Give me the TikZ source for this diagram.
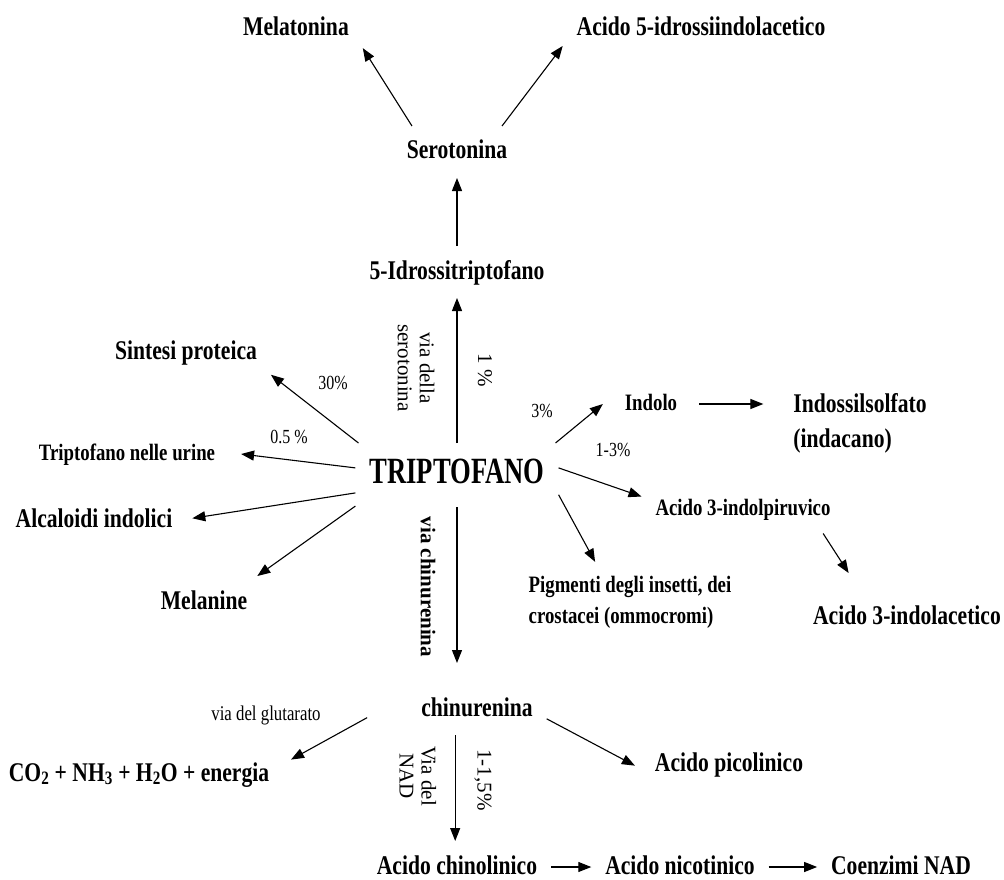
\documentclass[tikz,border=0pt]{standalone}
\usepackage{fontspec}
\setmainfont{Liberation Serif}[FakeStretch=0.8]
\newfontfamily\upright{Liberation Serif}
\newfontfamily\tripfont{Liberation Serif}[FakeStretch=0.72]
\usetikzlibrary{arrows.meta}

\begin{document}
\begin{tikzpicture}[x=1pt,y=-1pt,
  big/.style={font=\bfseries\fontsize{27}{30}\selectfont,inner sep=0pt,outer sep=14pt,text height=19pt,text depth=5pt},
  small/.style={font=\bfseries\fontsize{23.5}{26}\selectfont,inner sep=0pt,outer sep=14pt,text height=16.5pt,text depth=4.5pt},
  block/.style={font=\bfseries\fontsize{27}{35}\selectfont,align=left,inner sep=0pt,outer sep=14pt},
  pct/.style={font=\fontsize{20}{22}\selectfont,inner sep=0pt},
  side/.style={font=\upright\fontsize{21}{22}\selectfont,rotate=-90,align=center,inner sep=0pt},
  arr/.style={-{Triangle[length=13pt,width=10pt]},line width=1.1pt}]

\useasboundingbox (0,0) rectangle (1004,880);

% via della serotonina
\node[big] (mel) at (296,29) {Melatonina};
\node[big] (hia) at (701,29) {Acido 5-idrossiindolacetico};
\node[big] (ser) at (457,152) {Serotonina};
\node[big] (htp) at (457,272) {5-Idrossitriptofano};

\node[font=\tripfont\bfseries\fontsize{37}{40}\selectfont,inner sep=0pt,outer sep=14pt,text height=26pt,text depth=10pt] (trp) at (457,475) {TRIPTOFANO};

% left
\node[big] (sint) at (186,352) {Sintesi proteica};
\node[small,outer sep=26pt] (uri) at (127,454) {Triptofano nelle urine};
\node[big,outer sep=20pt] (alc) at (94,520) {Alcaloidi indolici};
\node[big] (mln) at (204,602) {Melanine};

% right
\node[small,outer sep=22pt] (ind) at (651,404) {Indolo};
\node[block,outer sep=30pt] (inds) at (860,423) {Indossilsolfato\\(indacano)};
\node[small] (ipy) at (743,509) {Acido 3-indolpiruvico};
\node[big,outer sep=32pt] (iaa) at (907,617) {Acido 3-indolacetico};
\node[block,font=\bfseries\fontsize{23.5}{31}\selectfont] (pig) at (630,602) {Pigmenti degli insetti, dei\\crostacei (ommocromi)};

% via chinurenina
\node[big] (kyn) at (477,709) {chinurenina};
\node[big] (co2) at (139,774) {CO\textsubscript{2} + NH\textsubscript{3} + H\textsubscript{2}O + energia};
\node[big,outer sep=20pt] (pic) at (729,764) {Acido picolinico};
\node[big] (qui) at (457,867) {Acido chinolinico};
\node[big] (nic) at (680,867) {Acido nicotinico};
\node[big] (nad) at (901,867) {Coenzimi NAD};

% percentuali e vie
\node[pct] (p30) at (333,383) {30\%};
\node[pct] (p05) at (289,437) {0.5 \%};
\node[pct] (p3) at (542,411) {3\%};
\node[pct] (p13) at (613,450) {1-3\%};
\node[pct,font=\fontsize{21}{22}\selectfont] (glu) at (266,715) {via del glutarato};
\node[side] (vser) at (416,368) {via della\\serotonina};
\node[side] (p1) at (485,370) {1 \%};
\node[side,font=\upright\bfseries\fontsize{21}{22}\selectfont] (vkyn) at (428,587) {via chinurenina};
\node[side] (vnad) at (418,776) {Via del\\NAD};
\node[side] (p115) at (483,780) {1-1,5\%};

\draw[arr] (ser.150) -- (mel.-16);
\draw[arr] (ser.30) -- (hia.187);
\draw[arr] (htp.north) -- (ser.south);
\draw[arr] (trp.north) -- (htp.south);

\draw[arr] (trp.162) -- (sint.-15);
\draw[arr] (trp.176) -- (uri.east);
\draw[arr] (trp.190) -- (alc.1);
\draw[arr] (trp.197) -- (mln.26);

\draw[arr] (trp.18) -- (ind.180);
\draw[arr] (ind.east) -- (ind.east -| inds.west);
\draw[arr] (trp.4) -- (ipy.173);
\draw[arr] (ipy.-17) -- (iaa.143);
\draw[arr] (trp.-11) -- (pig.131);

\draw[arr,shorten >=20pt] (trp.south) -- (trp.south |- kyn.north);
\draw[arr,shorten <=46pt,shorten >=9pt] (kyn.169) -- (co2.4);
\draw[arr] (kyn.-8) -- (pic.181);
\draw[arr] (kyn.230) -- (kyn.230 |- qui.north);
\draw[arr] (qui.east) -- (nic.west);
\draw[arr] (nic.east) -- (nad.west);
\end{tikzpicture}
\end{document}
